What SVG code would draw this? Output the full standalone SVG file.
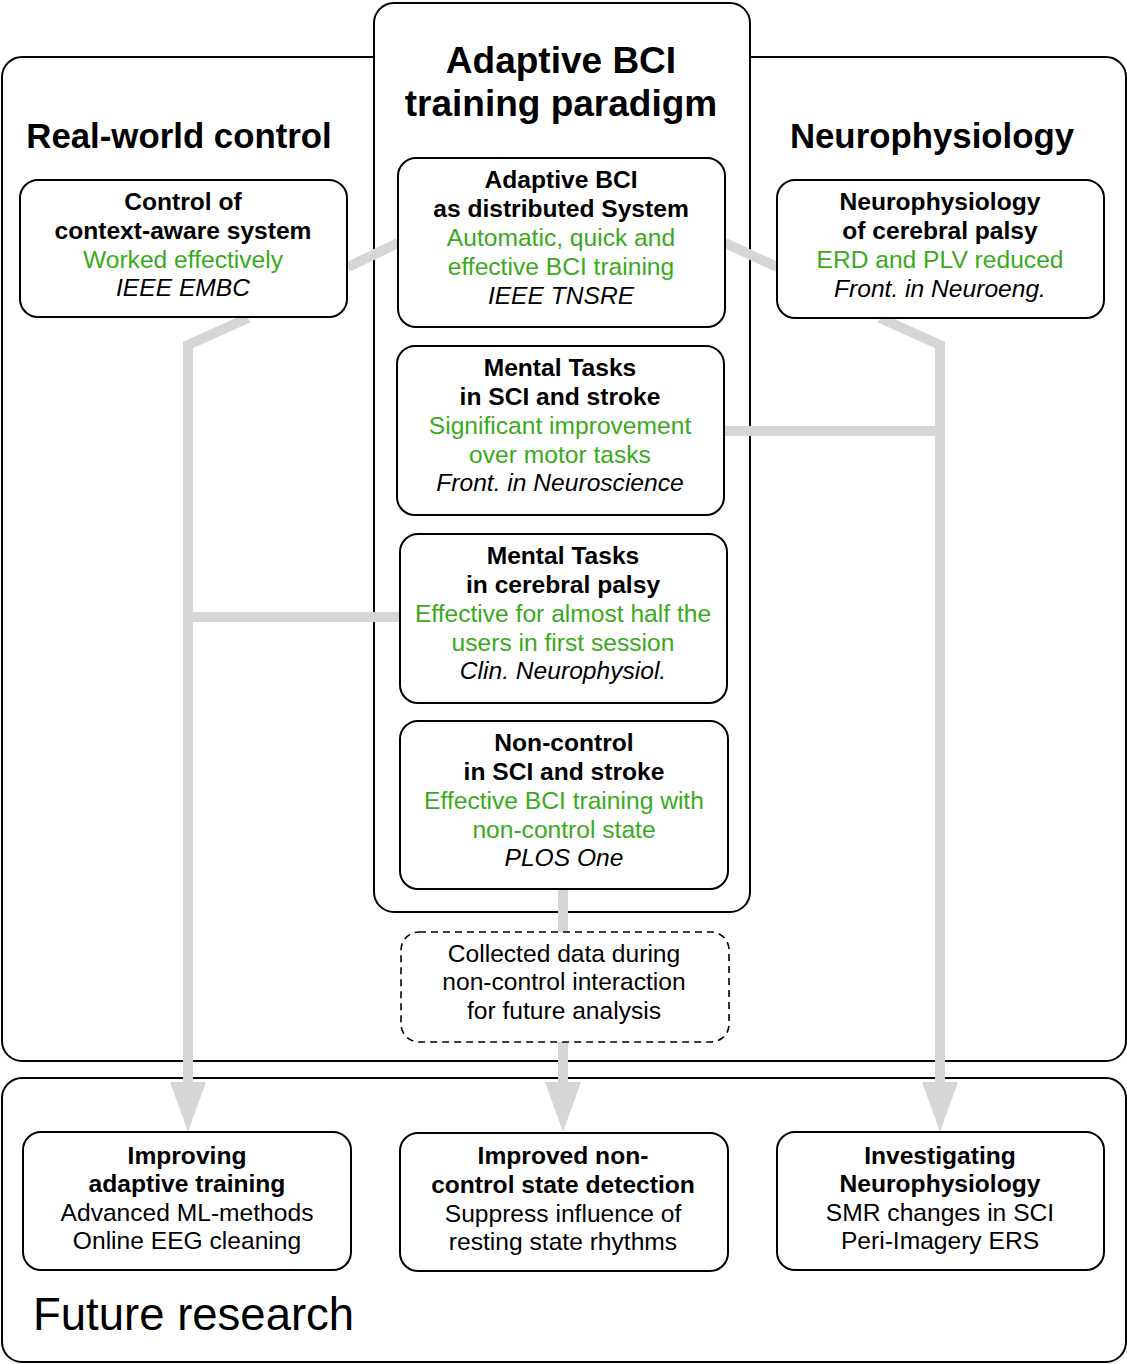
<svg xmlns="http://www.w3.org/2000/svg" width="1127" height="1364" viewBox="0 0 1127 1364">
<defs>
<style>
.frame{fill:#fff;stroke:#000;stroke-width:2}
.node{fill:#fff;stroke:#000;stroke-width:2}
.dash{fill:#fff;stroke:#000;stroke-width:1.6;stroke-dasharray:7 5}
.conn{fill:none;stroke:#d6d6d6;stroke-width:10;stroke-linejoin:miter}
.head{fill:#d6d6d6}
text{font-family:"Liberation Sans",Arial,sans-serif;text-anchor:middle;fill:#000}
.h{font-weight:bold;font-size:34.8px}
.h2{font-weight:bold;font-size:37px}
.b{font-weight:bold;font-size:24.6px}
.g{font-size:24.6px;fill:#3aaa1a}
.i{font-size:24.6px;font-style:italic}
.n{font-size:24.6px}
.fr{font-size:45.5px;text-anchor:start}
</style>
</defs>
<g id="frames">
<rect class="frame" x="2" y="57" width="1124" height="1004" rx="20"/>
<rect class="frame" x="2" y="1078" width="1124" height="284" rx="20"/>
<rect class="frame" x="374" y="3" width="376" height="909" rx="20"/>
</g>
<g id="titles">
<text class="h" x="179" y="148">Real-world control</text>
<text class="h" x="932" y="148">Neurophysiology</text>
<text class="h2" x="561" y="73">Adaptive BCI</text>
<text class="h2" x="561" y="116">training paradigm</text>
<text class="fr" x="33" y="1330">Future research</text>
</g>
<g id="connectors">
<path class="conn" d="M398,243 L348,267"/>
<path class="conn" d="M248,318 L188,345 L188,1085"/>
<path class="conn" d="M188,617 L400,617"/>
<path class="conn" d="M725,243 L777,267"/>
<path class="conn" d="M880,318 L940,345 L940,1085"/>
<path class="conn" d="M724,431 L940,431"/>
<path class="conn" d="M563,889 L563,932"/>
<path class="conn" d="M563,1042 L563,1085"/>
<polygon class="head" points="170,1082 206,1082 188,1132"/>
<polygon class="head" points="545,1082 581,1082 563,1132"/>
<polygon class="head" points="922,1082 958,1082 940,1132"/>
</g>
<g id="n-control">
<rect class="node" x="20" y="180" width="327" height="137" rx="18"/>
<text class="b" x="183" y="210">Control of</text>
<text class="b" x="183" y="239">context-aware system</text>
<text class="g" x="183" y="268">Worked effectively</text>
<text class="i" x="183" y="296">IEEE EMBC</text>
</g>
<g id="n-distributed">
<rect class="node" x="398" y="158" width="327" height="169" rx="18"/>
<text class="b" x="561" y="188">Adaptive BCI</text>
<text class="b" x="561" y="217">as distributed System</text>
<text class="g" x="561" y="246">Automatic, quick and</text>
<text class="g" x="561" y="275">effective BCI training</text>
<text class="i" x="561" y="304">IEEE TNSRE</text>
</g>
<g id="n-mental-sci">
<rect class="node" x="397" y="346" width="327" height="169" rx="18"/>
<text class="b" x="560" y="376">Mental Tasks</text>
<text class="b" x="560" y="405">in SCI and stroke</text>
<text class="g" x="560" y="434">Significant improvement</text>
<text class="g" x="560" y="463">over motor tasks</text>
<text class="i" x="560" y="491">Front. in Neuroscience</text>
</g>
<g id="n-mental-cp">
<rect class="node" x="400" y="534" width="327" height="169" rx="18"/>
<text class="b" x="563" y="564">Mental Tasks</text>
<text class="b" x="563" y="593">in cerebral palsy</text>
<text class="g" x="563" y="622">Effective for almost half the</text>
<text class="g" x="563" y="651">users in first session</text>
<text class="i" x="563" y="679">Clin. Neurophysiol.</text>
</g>
<g id="n-noncontrol">
<rect class="node" x="400" y="721" width="328" height="168" rx="18"/>
<text class="b" x="564" y="751">Non-control</text>
<text class="b" x="564" y="780">in SCI and stroke</text>
<text class="g" x="564" y="809">Effective BCI training with</text>
<text class="g" x="564" y="838">non-control state</text>
<text class="i" x="564" y="866">PLOS One</text>
</g>
<g id="n-neurophys">
<rect class="node" x="777" y="180" width="327" height="138" rx="18"/>
<text class="b" x="940" y="210">Neurophysiology</text>
<text class="b" x="940" y="239">of cerebral palsy</text>
<text class="g" x="940" y="268">ERD and PLV reduced</text>
<text class="i" x="940" y="297">Front. in Neuroeng.</text>
</g>
<g id="n-collected">
<rect class="dash" x="401" y="932" width="328" height="110" rx="18"/>
<text class="n" x="564" y="962">Collected data during</text>
<text class="n" x="564" y="990">non-control interaction</text>
<text class="n" x="564" y="1019">for future analysis</text>
</g>
<g id="n-improving">
<rect class="node" x="23" y="1132" width="328" height="138" rx="18"/>
<text class="b" x="187" y="1164">Improving</text>
<text class="b" x="187" y="1192">adaptive training</text>
<text class="n" x="187" y="1221">Advanced ML-methods</text>
<text class="n" x="187" y="1249">Online EEG cleaning</text>
</g>
<g id="n-detection">
<rect class="node" x="400" y="1133" width="328" height="138" rx="18"/>
<text class="b" x="563" y="1164">Improved non-</text>
<text class="b" x="563" y="1193">control state detection</text>
<text class="n" x="563" y="1222">Suppress influence of</text>
<text class="n" x="563" y="1250">resting state rhythms</text>
</g>
<g id="n-investigating">
<rect class="node" x="777" y="1132" width="327" height="138" rx="18"/>
<text class="b" x="940" y="1164">Investigating</text>
<text class="b" x="940" y="1192">Neurophysiology</text>
<text class="n" x="940" y="1221">SMR changes in SCI</text>
<text class="n" x="940" y="1249">Peri-Imagery ERS</text>
</g>
</svg>
